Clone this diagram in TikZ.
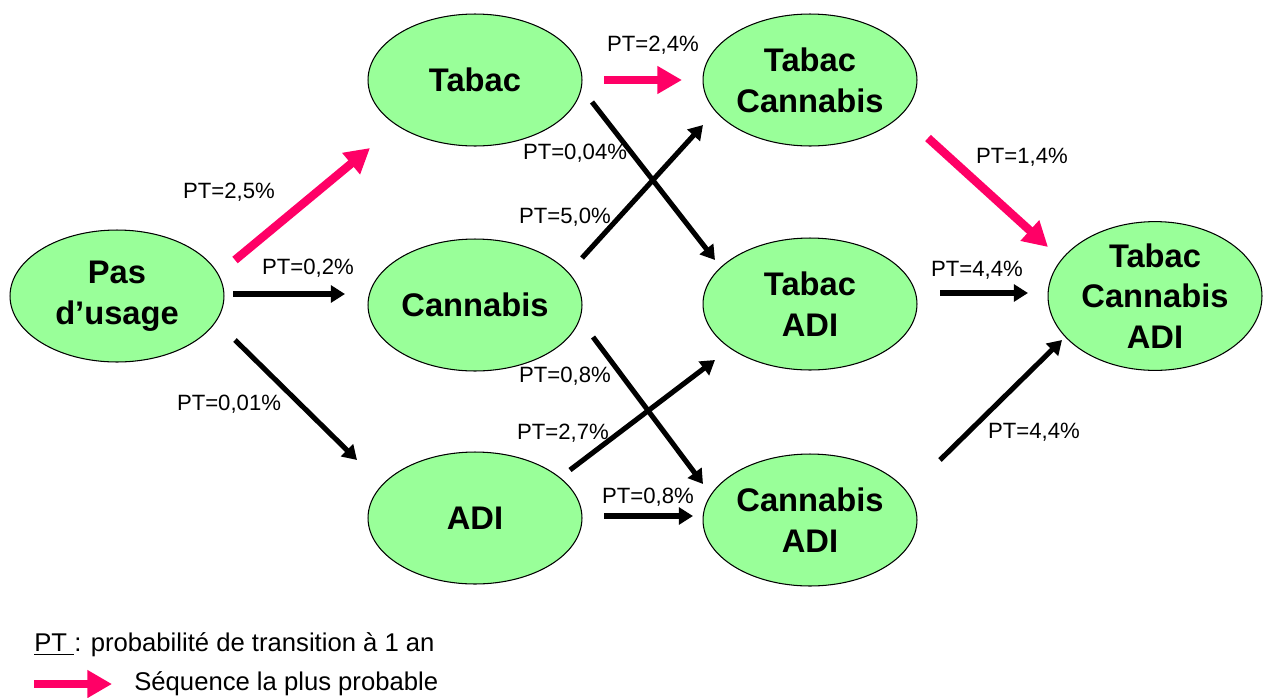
\documentclass[tikz,border=0pt]{standalone}
\usepackage{fontspec}
\setmainfont{Liberation Sans}
\usetikzlibrary{shapes, arrows.meta}

\definecolor{etatvert}{HTML}{99FF99}
\definecolor{seqrose}{HTML}{FF0066}

\begin{document}
\begin{tikzpicture}[x=0.02cm, y=-0.02cm,
    etat/.style={ellipse, draw, line width=0.6pt, fill=etatvert,
        minimum width=4.28cm, minimum height=2.64cm, inner sep=0pt,
        align=center, font=\fontsize{18.6}{23.2}\selectfont\bfseries},
    trans/.style={line width=2.9pt, -{Triangle[length=8pt, width=9.5pt]}},
    seq/.style={seqrose, line width=4.8pt, -{Triangle[length=14pt, width=15pt]}},
    ptlab/.style={font=\fontsize{12.6}{15}\selectfont}]

    \useasboundingbox (0,0) rectangle (1264,697);

    % --- etats ---
    \node[etat] (pas)  at (117,296)  {Pas\\d’usage};
    \node[etat] (tab)  at (475,80)   {Tabac};
    \node[etat] (can)  at (475,305)  {Cannabis};
    \node[etat] (adi)  at (475,518)  {ADI};
    \node[etat] (tc)   at (810,80)   {Tabac\\Cannabis};
    \node[etat] (ta)   at (810,304)  {Tabac\\ADI};
    \node[etat] (ca)   at (810,520)  {Cannabis\\ADI};
    \node[etat] (tca)  at (1155,296) {Tabac\\Cannabis\\ADI};

    % extremites des fleches (elles ne touchent pas les ellipses)
    \coordinate (pas-tab-a) at (235,260);  \coordinate (pas-tab-b) at (370,148);
    \coordinate (pas-can-a) at (233,294);  \coordinate (pas-can-b) at (345,294);
    \coordinate (pas-adi-a) at (235,340);  \coordinate (pas-adi-b) at (357,460);
    \coordinate (tab-tc-a)  at (604,80);   \coordinate (tab-tc-b)  at (682,80);
    \coordinate (tab-ta-a)  at (592,102);  \coordinate (tab-ta-b)  at (715,260);
    \coordinate (can-tc-a)  at (582,258);  \coordinate (can-tc-b)  at (703,125);
    \coordinate (can-ca-a)  at (593,337);  \coordinate (can-ca-b)  at (703,484);
    \coordinate (adi-ta-a)  at (570,470);  \coordinate (adi-ta-b)  at (715,360);
    \coordinate (adi-ca-a)  at (604,516);  \coordinate (adi-ca-b)  at (693,516);
    \coordinate (tc-tca-a)  at (928,138);  \coordinate (tc-tca-b)  at (1048,247);
    \coordinate (ta-tca-a)  at (940,293);  \coordinate (ta-tca-b)  at (1028,293);
    \coordinate (ca-tca-a)  at (940,460);  \coordinate (ca-tca-b)  at (1062,340);

    % --- transitions ---
    \draw[seq]   (pas-tab-a) -- (pas-tab-b);
    \draw[trans] (pas-can-a) -- (pas-can-b);
    \draw[trans] (pas-adi-a) -- (pas-adi-b);
    \draw[seq]   (tab-tc-a)  -- (tab-tc-b);
    \draw[trans] (tab-ta-a)  -- (tab-ta-b);
    \draw[trans] (can-tc-a)  -- (can-tc-b);
    \draw[trans] (can-ca-a)  -- (can-ca-b);
    \draw[trans] (adi-ta-a)  -- (adi-ta-b);
    \draw[trans] (adi-ca-a)  -- (adi-ca-b);
    \draw[seq]   (tc-tca-a)  -- (tc-tca-b);
    \draw[trans] (ta-tca-a)  -- (ta-tca-b);
    \draw[trans] (ca-tca-a)  -- (ca-tca-b);

    % --- probabilites ---
    \foreach \n/\x/\y/\val in {a/229/192/{2,5}, b/308/268/{0,2}, c/229/404/{0,01},
            d/653/45/{2,4}, e/575/153/{0,04}, f/565/217/{5,0}, g/565/376/{0,8},
            h/563/433/{2,7}, i/648/497/{0,8}, j/1022/157/{1,4}, k/977/270/{4,4},
            l/1034/432/{4,4}}
        \node[ptlab] (pt-\n) at (\x,\y) {PT=\val\%};

    % --- legende ---
    \node[anchor=west, font=\fontsize{14.6}{17}\selectfont, inner sep=0pt] (leg-pt) at (34,645)
        {\underline{PT\ }: probabilité de transition à 1 an};
    \coordinate (leg-a) at (34,684);
    \coordinate (leg-b) at (112,684);
    \draw[seq] (leg-a) -- (leg-b);
    \node[anchor=west, font=\fontsize{14.6}{17}\selectfont, inner sep=0pt] (leg-seq) at (134,684)
        {Séquence la plus probable};

\end{tikzpicture}
\end{document}
